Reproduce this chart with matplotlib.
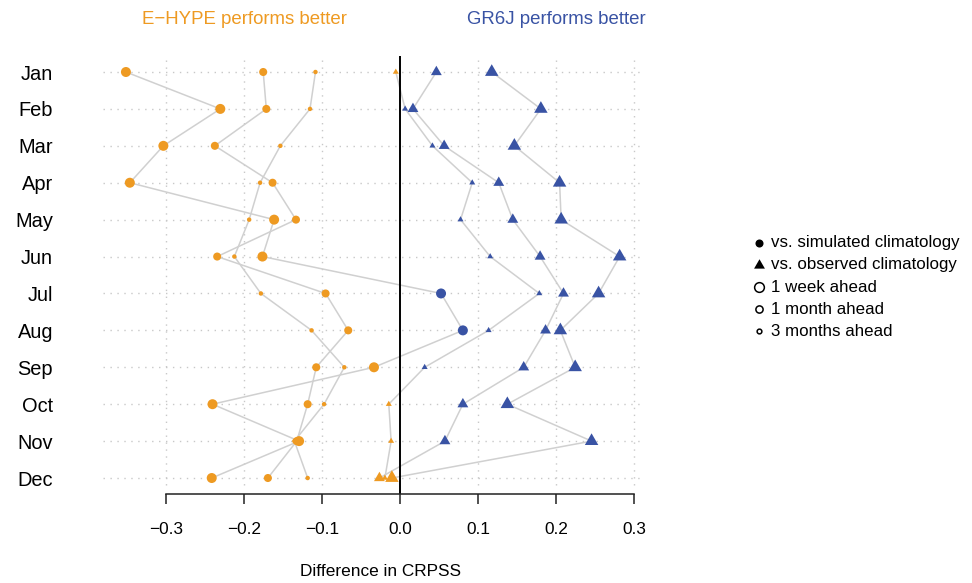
import numpy as np
import matplotlib.pyplot as plt
import matplotlib.transforms as mtransforms
from matplotlib.path import Path
from matplotlib.lines import Line2D

plt.rcParams['font.family'] = ['Liberation Sans', 'DejaVu Sans']

months = ["Jan", "Feb", "Mar", "Apr", "May", "Jun",
          "Jul", "Aug", "Sep", "Oct", "Nov", "Dec"]

# CRPSS difference (GR6J minus E-HYPE), skill relative to simulated climatology
sim_1w = [-0.352, -0.231, -0.304, -0.347, -0.162, -0.177, 0.052, 0.080, -0.034, -0.241, -0.130, -0.242]
sim_1m = [-0.176, -0.172, -0.238, -0.164, -0.134, -0.235, -0.096, -0.067, -0.108, -0.119, -0.133, -0.170]
sim_3m = [-0.109, -0.116, -0.154, -0.180, -0.194, -0.213, -0.179, -0.114, -0.072, -0.098, -0.136, -0.119]

# same, skill relative to observed climatology
obs_1w = [0.117, 0.180, 0.146, 0.204, 0.206, 0.281, 0.254, 0.205, 0.224, 0.137, 0.245, -0.011]
obs_1m = [0.046, 0.016, 0.056, 0.126, 0.144, 0.179, 0.209, 0.186, 0.158, 0.080, 0.057, -0.027]
obs_3m = [-0.006, 0.006, 0.041, 0.092, 0.077, 0.115, 0.178, 0.113, 0.031, -0.015, -0.012, -0.020]

xticks = [-0.3, -0.2, -0.1, 0.0, 0.1, 0.2, 0.3]
xtick_labels = ["\u22120.3", "\u22120.2", "\u22120.1", "0.0", "0.1", "0.2", "0.3"]

legend_labels = ["vs. simulated climatology", "vs. observed climatology",
                 "1 week ahead", "1 month ahead", "3 months ahead"]

ORANGE = "#EE9A22"
BLUE = "#3953A4"
LINE_GREY = "#D0D0D0"
GRID_GREY = "#C8C8C8"

# filled triangle like R's pch 17, centred on its centroid
TRIANGLE = Path([(0, 1.5551), (1.3468, -0.7776), (-1.3468, -0.7776), (0, 1.5551)],
                [Path.MOVETO, Path.LINETO, Path.LINETO, Path.CLOSEPOLY])
TRI_SCALE = 1.555

W, H = 972, 583
fig = plt.figure(figsize=(W / 100, H / 100), dpi=100)
ax = fig.add_axes([103 / W, 1 - 494 / H, (645 - 103) / W, (494 - 56) / H])

y = np.arange(1, 13)
ax.set_xlim(-0.3814, 0.3135)
ax.set_ylim(12.433, 0.5665)

# dotted guide lines
for yi in y:
    ax.axhline(yi, color=GRID_GREY, lw=1.0, ls=(0, (1, 4)), zorder=1)
for xt in xticks:
    if xt != 0:
        ax.plot([xt, xt], [0.675, 12.27], color=GRID_GREY, lw=1.0, ls=(0, (1, 4)), zorder=1)

ax.axvline(0, color="black", lw=1.4, zorder=2.5)

series = [
    (sim_1w, "o", 7.2),
    (sim_1m, "o", 5.8),
    (sim_3m, "o", 3.2),
    (obs_1w, TRIANGLE, 7.2 * TRI_SCALE),
    (obs_1m, TRIANGLE, 5.8 * TRI_SCALE),
    (obs_3m, TRIANGLE, 3.2 * TRI_SCALE),
]

for vals, marker, ms in series:
    ax.plot(vals, y, color=LINE_GREY, lw=1.1, zorder=2)

for vals, marker, ms in series:
    cols = [ORANGE if v < 0 else BLUE for v in vals]
    ax.scatter(vals, y, s=ms ** 2, marker=marker, c=cols, linewidths=0, zorder=3)

for side in ["top", "right", "left"]:
    ax.spines[side].set_visible(False)
ax.spines["bottom"].set_bounds(-0.3, 0.3)
ax.spines["bottom"].set_linewidth(1.1)
ax.spines["bottom"].set_color("#222222")

ax.set_xticks(xticks)
ax.set_xticklabels(xtick_labels)
ax.tick_params(axis="x", length=7.2, width=1.1, color="#222222", pad=13, labelsize=12.4)
ax.set_yticks(y)
ax.set_yticklabels(months)
ax.tick_params(axis="y", length=0, pad=36, labelsize=14.4)

trans = mtransforms.blended_transform_factory(ax.transData, fig.transFigure)
ax.text(-0.2, 1 - 19 / H, "E\u2212HYPE performs better", color=ORANGE,
        fontsize=13.4, ha="center", va="center", transform=trans)
ax.text(0.2, 1 - 19 / H, "GR6J performs better", color=BLUE,
        fontsize=13.4, ha="center", va="center", transform=trans)

fig.text(380.5 / W, 1 - 572 / H, "Difference in CRPSS", fontsize=12.4,
         ha="center", va="center")

# legend, drawn by hand
leg_marks = [
    dict(marker="o", ms=5.8, mfc="black", mec="black", mew=0),
    dict(marker=TRIANGLE, ms=5.8 * TRI_SCALE, mfc="black", mec="black", mew=0),
    dict(marker="o", ms=7.0, mfc="none", mec="black", mew=1.1),
    dict(marker="o", ms=5.2, mfc="none", mec="black", mew=1.1),
    dict(marker="o", ms=3.4, mfc="none", mec="black", mew=1.1),
]
for i, (label, mk) in enumerate(zip(legend_labels, leg_marks)):
    yp = 1 - (243 + 22 * i) / H
    fig.add_artist(Line2D([759 / W], [yp], ls="none", transform=fig.transFigure, **mk))
    fig.text(771 / W, yp, label, fontsize=12.2, ha="left", va="center")

fig.savefig("out.png", dpi=100)
